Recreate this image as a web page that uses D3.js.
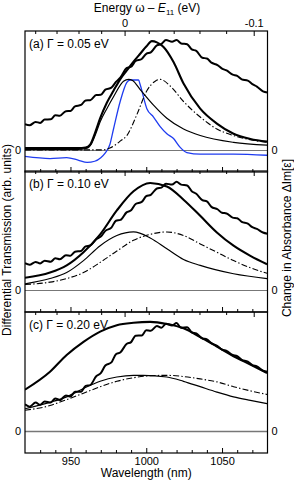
<!DOCTYPE html>
<html lang="en">
<head>
<meta charset="UTF-8">
<title>Differential transmission panels</title>
<script src="https://d3js.org/d3.v7.min.js"></script>
<style>
  body { margin: 0; background: #fff; }
  svg { font-family: "Liberation Sans", Arial, sans-serif; }
  .lbl { font-size: 12px; fill: #000; }
  .tick-lbl { font-size: 11px; fill: #000; }
</style>
</head>
<body>
<svg id="chart"></svg>
<script>
// wavelength grid of the measured (wiggly) traces
const expLambda = [920, 923, 927, 930, 933, 937, 940, 943, 947, 950, 953, 957, 960, 963, 967, 970, 973, 977, 980, 983,
  987, 990, 993, 997, 1000, 1003, 1007, 1010, 1013, 1017, 1020, 1023, 1027, 1030, 1033, 1037, 1040, 1043, 1047, 1050,
  1053, 1057, 1060, 1063, 1067, 1070, 1073, 1077, 1080];

const expA = [0.219, 0.211, 0.239, 0.231, 0.259, 0.261, 0.294, 0.291, 0.329, 0.331, 0.369, 0.381, 0.419, 0.421, 0.464, 0.466,
  0.509, 0.526, 0.574, 0.611, 0.689, 0.701, 0.749, 0.766, 0.809, 0.821, 0.879, 0.891, 0.924, 0.911, 0.924, 0.896, 0.889, 0.846,
  0.834, 0.776, 0.770, 0.735, 0.715, 0.685, 0.670, 0.635, 0.625, 0.595, 0.585, 0.555, 0.535, 0.495, 0.485];
const expB = [0.229, 0.216, 0.239, 0.226, 0.249, 0.241, 0.269, 0.261, 0.294, 0.291, 0.324, 0.331, 0.369, 0.376, 0.429, 0.451,
  0.499, 0.526, 0.584, 0.591, 0.654, 0.671, 0.724, 0.741, 0.789, 0.801, 0.854, 0.861, 0.894, 0.886, 0.909, 0.886, 0.879, 0.831,
  0.809, 0.756, 0.745, 0.700, 0.680, 0.650, 0.645, 0.610, 0.605, 0.575, 0.560, 0.530, 0.515, 0.485, 0.475];
const expC = [0.227, 0.208, 0.242, 0.223, 0.252, 0.243, 0.277, 0.263, 0.302, 0.293, 0.332, 0.333, 0.382, 0.388, 0.462, 0.488,
  0.552, 0.578, 0.647, 0.663, 0.732, 0.748, 0.802, 0.803, 0.847, 0.843, 0.882, 0.868, 0.902, 0.888, 0.907, 0.868, 0.872, 0.830,
  0.820, 0.780, 0.770, 0.740, 0.715, 0.685, 0.675, 0.640, 0.630, 0.600, 0.585, 0.555, 0.545, 0.510, 0.500];

// model curves: [wavelength, value]
const thickA = [[920, 0.02], [940, 0.02], [955, 0.02], [960, 0.025], [963, 0.05], [966, 0.14], [969.6, 0.27], [974, 0.40],
  [978.4, 0.50], [983, 0.60], [987.2, 0.67], [992, 0.75], [996, 0.81], [1000, 0.87], [1003.7, 0.915], [1007, 0.905],
  [1011.4, 0.866], [1018, 0.74], [1024.6, 0.56], [1035.6, 0.35], [1046.6, 0.225], [1057.6, 0.14], [1068.7, 0.097], [1079.7, 0.074]];
const thinA = [[920, 0.01], [955, 0.01], [961, 0.02], [964, 0.06], [967, 0.15], [969.6, 0.24], [974, 0.35], [978.4, 0.45],
  [985, 0.58], [988.3, 0.595], [991, 0.585], [996, 0.51], [1004.8, 0.38], [1013.6, 0.27], [1024.6, 0.18], [1035.6, 0.125],
  [1057.6, 0.068], [1079.7, 0.045]];
const dashA = [[920, 0.005], [970, 0.005], [976, 0.02], [980, 0.05], [983, 0.08], [987.2, 0.125], [993.8, 0.30], [1000.4, 0.50],
  [1005.9, 0.58], [1009.2, 0.595], [1015.8, 0.54], [1024.6, 0.41], [1035.6, 0.28], [1046.6, 0.18], [1057.6, 0.125], [1079.7, 0.068]];
const blueA = [[920, -0.05], [936.5, -0.068], [947.5, -0.06], [955, -0.08], [961, -0.1], [966, -0.09], [970, -0.06], [973, -0.02],
  [976, 0.05], [978.4, 0.18], [982.8, 0.41], [987.2, 0.57], [989.4, 0.59], [994.9, 0.59], [996, 0.55], [1000.4, 0.35],
  [1004.8, 0.28], [1009.2, 0.2], [1013.6, 0.14], [1018, 0.1], [1022.4, 0.026], [1026.8, -0.017], [1035.6, -0.03],
  [1057.6, -0.03], [1079.7, -0.04]];

const thickB = [[920, 0.106], [936.5, 0.15], [947.5, 0.21], [958.6, 0.32], [969.6, 0.47], [980.6, 0.67], [991.6, 0.83],
  [1002.6, 0.90], [1013.6, 0.87], [1024.6, 0.76], [1035.6, 0.625], [1046.6, 0.486], [1057.6, 0.375], [1068.7, 0.29], [1079.7, 0.22]];
const thinB = [[920, 0.056], [936.5, 0.10], [947.5, 0.15], [958.6, 0.25], [969.6, 0.375], [980.6, 0.46], [991.6, 0.49],
  [1002.6, 0.44], [1013.6, 0.35], [1024.6, 0.26], [1035.6, 0.21], [1057.6, 0.14], [1079.7, 0.10]];
const dashB = [[920, 0.05], [936.5, 0.07], [947.5, 0.10], [958.6, 0.15], [969.6, 0.235], [980.6, 0.33], [991.6, 0.42],
  [1002.6, 0.47], [1013.6, 0.49], [1024.6, 0.46], [1035.6, 0.39], [1046.6, 0.32], [1057.6, 0.25], [1068.7, 0.19], [1079.7, 0.144]];

const thickC = [[920, 0.35], [936.5, 0.50], [947.5, 0.64], [958.6, 0.75], [969.6, 0.836], [980.6, 0.89], [991.6, 0.91],
  [1002.6, 0.917], [1013.6, 0.90], [1024.6, 0.864], [1035.6, 0.79], [1046.6, 0.71], [1057.6, 0.63], [1068.7, 0.56], [1079.7, 0.49]];
const thinC = [[920, 0.19], [936.5, 0.244], [947.5, 0.29], [958.6, 0.36], [969.6, 0.42], [980.6, 0.456], [991.6, 0.47],
  [998, 0.47], [1013.6, 0.456], [1024.6, 0.42], [1035.6, 0.375], [1046.6, 0.33], [1057.6, 0.29], [1068.7, 0.26], [1079.7, 0.233]];
const dashC = [[920, 0.178], [936.5, 0.217], [947.5, 0.267], [958.6, 0.32], [969.6, 0.375], [980.6, 0.42], [991.6, 0.45],
  [1002.6, 0.467], [1013.6, 0.47], [1024.6, 0.46], [1035.6, 0.44], [1046.6, 0.415], [1057.6, 0.375], [1068.7, 0.34], [1079.7, 0.31]];

const panelLabels = ["(a) \u0393 = 0.05 eV", "(b) \u0393 = 0.10 eV", "(c) \u0393 = 0.20 eV"];
const majorLambda = [950, 1000, 1050];
const minorLambda = [930, 940, 960, 970, 980, 990, 1010, 1020, 1030, 1040, 1060, 1070];
const majorEnergy = [0, -0.1];
const minorEnergy = [0.08, 0.06, 0.04, 0.02, -0.02, -0.04, -0.06, -0.08];

const W = 294, H = 481;
const left = 25, right = 267.5;
const panelTops = [31, 171, 312];
const panelH = 141;
const E11 = 1.2574, hc = 1239.84;

const svg = d3.select("#chart").attr("width", W).attr("height", H);

const x = d3.scaleLinear().domain([920, 1080]).range([left, right]);
const xE = e => x(hc / (E11 + e));

const panels = [
  { exp: expA, thick: thickA, thin: thinA, dash: dashA, blue: blueA },
  { exp: expB, thick: thickB, thin: thinB, dash: dashB },
  { exp: expC, thick: thickC, thin: thinC, dash: dashC }
];

svg.append("defs").append("clipPath").attr("id", "plotclip")
  .append("rect").attr("x", left).attr("y", panelTops[0])
  .attr("width", right - left).attr("height", panelTops[2] + panelH - panelTops[0]);

// zero labels collected here, drawn at the end as plain black text
const zeroYs = [];

panels.forEach((p, i) => {
  const top = panelTops[i];
  const bottom = top + panelH;
  const y = d3.scaleLinear().domain([-0.18, 1.0]).range([bottom, top]);
  const g = svg.append("g");
  zeroYs.push(y(0));

  // zero line
  g.append("line")
    .attr("x1", left).attr("x2", right)
    .attr("y1", y(0)).attr("y2", y(0))
    .attr("stroke", "#777").attr("stroke-width", i === 2 ? 1.6 : 1.1);

  const smooth = d3.line().x(d => x(d[0])).y(d => y(d[1])).curve(d3.curveMonotoneX);
  const plot = g.append("g").attr("clip-path", "url(#plotclip)");

  if (p.blue) {
    plot.append("path").attr("d", smooth(p.blue))
      .attr("fill", "none").attr("stroke", "#1f3cf0").attr("stroke-width", 1.3);
  }
  plot.append("path").attr("d", smooth(p.dash))
    .attr("fill", "none").attr("stroke", "#000").attr("stroke-width", 1.1)
    .attr("stroke-dasharray", "6,2.2,1.4,2.2");
  plot.append("path").attr("d", smooth(p.thin))
    .attr("fill", "none").attr("stroke", "#000").attr("stroke-width", 1.2);
  plot.append("path").attr("d", smooth(p.thick))
    .attr("fill", "none").attr("stroke", "#000").attr("stroke-width", 2.1);
  const expLine = d3.line().x((d, k) => x(expLambda[k])).y(d => y(d)).curve(d3.curveMonotoneX);
  plot.append("path").attr("d", expLine(p.exp))
    .attr("fill", "none").attr("stroke", "#000").attr("stroke-width", 2)
    .attr("stroke-linejoin", "round");

  // frame
  g.append("rect").attr("x", left).attr("y", top).attr("width", right - left).attr("height", panelH)
    .attr("fill", "none").attr("stroke", "#000").attr("stroke-width", 1.2);

  // wavelength ticks, inward from the bottom edge
  g.append("g").attr("transform", `translate(0,${bottom})`)
    .call(d3.axisTop(x).tickValues(majorLambda).tickSize(5).tickFormat(""))
    .call(a => a.select(".domain").remove());
  g.append("g").attr("transform", `translate(0,${bottom})`)
    .call(d3.axisTop(x).tickValues(minorLambda).tickSize(3).tickFormat(""))
    .call(a => a.select(".domain").remove());

  // energy ticks, inward from the top edge
  g.selectAll(".etick").data(majorEnergy.map(e => [e, 5]).concat(minorEnergy.map(e => [e, 3])))
    .join("line")
    .attr("x1", d => xE(d[0])).attr("x2", d => xE(d[0]))
    .attr("y1", top).attr("y2", d => top + d[1])
    .attr("stroke", "#000").attr("stroke-width", 1);

  g.append("text").attr("class", "lbl").attr("x", left + 4).attr("y", top + 16.5).text(panelLabels[i]);
});

svg.selectAll(".zl").data(zeroYs).join("text")
  .attr("x", left - 4).attr("y", d => d + 4)
  .attr("text-anchor", "end")
  .style("font-size", "11px").style("fill", "black")
  .text("0");
svg.selectAll(".zr").data(zeroYs).join("text")
  .attr("x", right + 4).attr("y", d => d + 4)
  .style("font-size", "11px").style("fill", "black")
  .text("0");

// bottom tick labels
const lastBottom = panelTops[2] + panelH;
svg.append("g").attr("transform", `translate(0,${lastBottom})`)
  .call(d3.axisBottom(x).tickValues(majorLambda).tickSize(0).tickPadding(4).tickFormat(d3.format("d")))
  .call(a => a.select(".domain").remove())
  .call(a => a.selectAll("text").attr("class", "tick-lbl").attr("fill", "#000")
    .attr("font-family", null).attr("font-size", null));

svg.append("text").attr("class", "lbl").attr("x", (left + right) / 2).attr("y", 477)
  .attr("text-anchor", "middle").text("Wavelength (nm)");

// top energy tick labels
svg.selectAll(".etl").data(majorEnergy).join("text")
  .attr("class", "tick-lbl").attr("fill", "#000").attr("x", d => xE(d)).attr("y", 27).attr("text-anchor", "middle")
  .text(d => d === 0 ? "0" : d3.format(".1f")(d).replace("\u2212", "-"));

const title = svg.append("text").attr("class", "lbl").attr("x", 147).attr("y", 11.5).attr("text-anchor", "middle");
title.append("tspan").text("Energy \u03c9 \u2013 ");
title.append("tspan").attr("font-style", "italic").text("E");
title.append("tspan").attr("font-size", "8px").attr("dy", 3).text("11");
title.append("tspan").attr("dy", -3).text(" (eV)");

svg.append("text").attr("class", "lbl")
  .attr("transform", `translate(11,240) rotate(-90)`).attr("text-anchor", "middle")
  .text("Differential Transmission (arb. units)");

svg.append("text").attr("class", "lbl")
  .attr("transform", `translate(291,238) rotate(-90)`).attr("text-anchor", "middle")
  .text("Change in Absorbance \u0394Im[\u03b5]");
</script>
</body>
</html>
